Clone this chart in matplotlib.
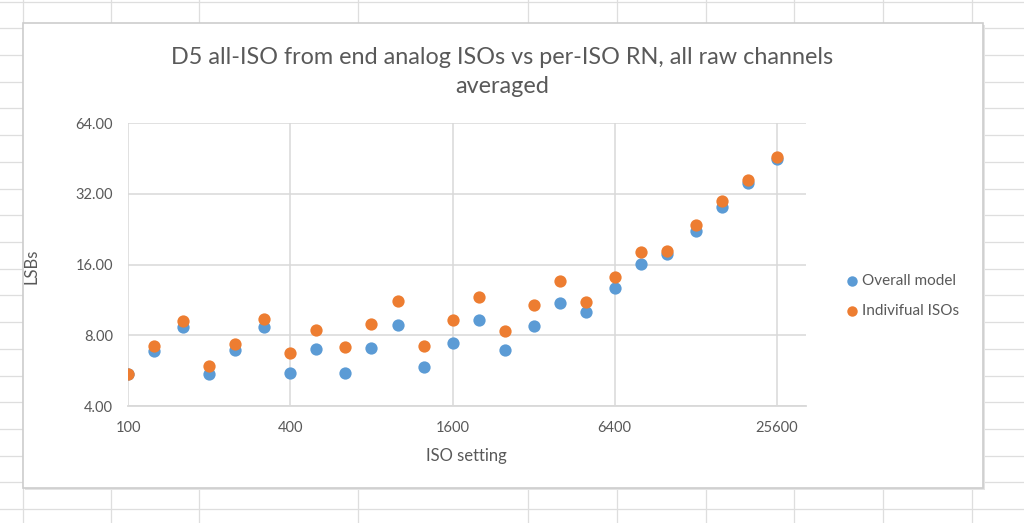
import matplotlib.pyplot as plt
from matplotlib.lines import Line2D
from matplotlib.patches import Rectangle
from matplotlib.ticker import FixedLocator, FuncFormatter, NullLocator

# data
iso = [100, 125, 160, 200, 250, 320, 400, 500, 640, 800, 1000, 1250, 1600,
       2000, 2500, 3200, 4000, 5000, 6400, 8000, 10000, 12800, 16000, 20000, 25600]
overall_model = [5.46, 6.88, 8.65, 5.46, 6.91, 8.70, 5.51, 6.97, 5.54, 7.04, 8.82, 5.88, 7.44,
                 9.30, 6.93, 8.77, 10.95, 10.08, 12.76, 16.05, 17.75, 22.31, 28.23, 35.72, 44.92]
individual_isos = [5.46, 7.20, 9.23, 5.92, 7.37, 9.41, 6.70, 8.43, 7.11, 8.91, 11.17, 7.23, 9.30,
                   11.68, 8.37, 10.77, 13.62, 11.06, 14.21, 18.16, 18.28, 23.59, 29.94, 36.56, 46.08]
x_ticks = [100, 400, 1600, 6400, 25600]
y_ticks = [4, 8, 16, 32, 64]

W, H = 1024, 523
text_col = '#595959'
grid_col = '#D9D9D9'
blue = '#5B9BD5'
orange = '#ED7D31'
plt.rcParams['font.family'] = ['Lato', 'DejaVu Sans']

fig = plt.figure(figsize=(W / 100, H / 100), dpi=100)
fig.patch.set_facecolor('white')

# spreadsheet cells behind the chart
col_px = [23, 111, 199, 358, 528, 617, 706, 794, 883, 972]
row_px = [1.7 + 26.7 * k for k in range(20)]
for c in col_px:
    fig.add_artist(Line2D([c / W, c / W], [0, 1], color='#DEDEDE', lw=0.9, zorder=0))
for r in row_px:
    fig.add_artist(Line2D([0, 1], [1 - r / H, 1 - r / H], color='#DEDEDE', lw=0.9, zorder=0))

# chart frame
fx0, fx1, fy0, fy1 = 23, 983, 23, 488
fig.add_artist(Rectangle((fx0 / W + 0.002, 1 - fy1 / H - 0.004), (fx1 - fx0) / W, (fy1 - fy0) / H,
                         facecolor='#E4E4E4', edgecolor='none', zorder=1))
fig.add_artist(Rectangle((fx0 / W, 1 - fy1 / H), (fx1 - fx0) / W, (fy1 - fy0) / H,
                         facecolor='white', edgecolor='#CDCDCD', lw=1.2, zorder=2))

ax = fig.add_axes([128.3 / W, 1 - 406 / H, (805.7 - 128.3) / W, (406 - 123.3) / H], zorder=3)
ax.set_facecolor('none')
ax.set_xscale('log', base=2)
ax.set_yscale('log', base=2)
ax.set_xlim(100, 32800)
ax.set_ylim(4, 64)

ax.scatter(iso, overall_model, s=78, color=blue, label='Overall model', zorder=3, linewidths=0)
ax.scatter(iso, individual_isos, s=78, color=orange, label='Indivifual ISOs', zorder=4, linewidths=0)

ax.xaxis.set_major_locator(FixedLocator(x_ticks))
ax.xaxis.set_minor_locator(NullLocator())
ax.xaxis.set_major_formatter(FuncFormatter(lambda v, p: '%d' % v))
ax.yaxis.set_major_locator(FixedLocator(y_ticks))
ax.yaxis.set_minor_locator(NullLocator())
ax.yaxis.set_major_formatter(FuncFormatter(lambda v, p: '%.2f' % v))
ax.grid(True, color=grid_col, lw=1.1)
ax.set_axisbelow(True)
for s in ['left', 'top', 'right']:
    ax.spines[s].set_visible(False)
ax.spines['bottom'].set_color(grid_col)
ax.spines['bottom'].set_linewidth(1.3)
ax.tick_params(length=0, colors=text_col, labelsize=10.5)
ax.tick_params(axis='y', pad=11)
ax.tick_params(axis='x', pad=11)

fig.text(502 / W, 1 - 72 / H, 'D5 all-ISO from end analog ISOs vs per-ISO RN, all raw channels\naveraged',
         ha='center', va='center', fontsize=16.8, color=text_col, linespacing=1.5)
fig.text(466 / W, 1 - 456 / H, 'ISO setting', ha='center', va='center', fontsize=12, color=text_col)
fig.text(32 / W, 1 - 266 / H, 'LSBs', ha='center', va='center', rotation=90, fontsize=12, color=text_col)

fig.legend(loc='center left', bbox_to_anchor=(838 / W, 1 - 296 / H), frameon=False,
           fontsize=11, labelcolor=text_col, handlelength=1.0, handletextpad=0.15,
           markerscale=0.85, labelspacing=1.0, borderaxespad=0, borderpad=0.4)

fig.savefig('out.png', dpi=100)
